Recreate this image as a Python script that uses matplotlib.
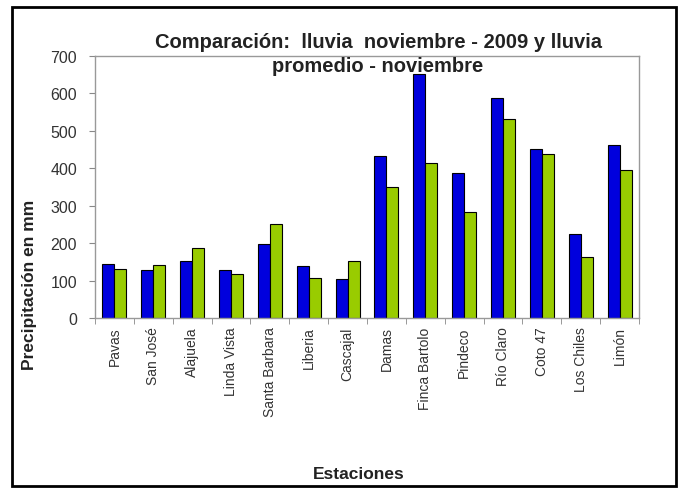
import numpy as np
import matplotlib
matplotlib.use("Agg")
import matplotlib.pyplot as plt
from matplotlib.patches import Rectangle

plt.rcParams['font.family'] = ['Liberation Sans', 'DejaVu Sans']

estaciones = ["Pavas", "San José", "Alajuela", "Linda Vista", "Santa Barbara",
              "Liberia", "Cascajal", "Damas", "Finca Bartolo", "Pindeco",
              "Río Claro", "Coto 47", "Los Chiles", "Limón"]
lluvia_2009 = [145, 128, 152, 128, 197, 139, 103, 432, 652, 388, 587, 452, 225, 463]
lluvia_promedio = [130, 141, 186, 117, 252, 108, 153, 350, 414, 284, 533, 437, 162, 396]
yticks = [0, 100, 200, 300, 400, 500, 600, 700]

fig = plt.figure(figsize=(6.8, 4.89), dpi=100)
ax = fig.add_axes([0.1397, 0.3476, 0.80, 0.5358])

x = np.arange(len(estaciones))
w = 0.31
ax.bar(x - w/2, lluvia_2009, w, color="#0000DD", edgecolor="black", linewidth=0.8)
ax.bar(x + w/2, lluvia_promedio, w, color="#99CC00", edgecolor="black", linewidth=0.8)

ax.set_xlim(-0.5, len(estaciones) - 0.5)
ax.set_ylim(0, 700)
ax.set_yticks(yticks)
ax.set_yticklabels([str(v) for v in yticks], fontsize=11.5, color="#333333")
ax.set_xticks(x)
ax.set_xticklabels(estaciones, rotation=90, fontsize=10, color="#333333")
ax.tick_params(axis="x", length=0, pad=6)
ax.set_xticks(np.arange(-0.5, len(estaciones)), minor=True)
ax.tick_params(axis="x", which="minor", length=4, direction="out", color="#888888")
ax.tick_params(axis="y", length=4, direction="out", color="#888888", pad=9)
for s in ax.spines.values():
    s.set_color("#999999")
    s.set_linewidth(1.0)

fig.text(0.556, 0.914, "Comparación:  lluvia  noviembre - 2009 y lluvia",
         ha="center", va="center", fontsize=14.5, fontweight="bold", color="#222222")
fig.text(0.556, 0.863, "promedio - noviembre",
         ha="center", va="center", fontsize=14.5, fontweight="bold", color="#222222")
fig.text(0.044, 0.417, "Precipitación en mm", rotation=90, ha="center", va="center",
         fontsize=12.5, fontweight="bold", color="#222222")
fig.text(0.527, 0.029, "Estaciones", ha="center", va="center",
         fontsize=12.5, fontweight="bold", color="#222222")

fig.patches.append(Rectangle((12/680, 2/489), 664/680, 479/489, transform=fig.transFigure,
                             fill=False, edgecolor="black", linewidth=2))

fig.savefig("out.png", dpi=100)
